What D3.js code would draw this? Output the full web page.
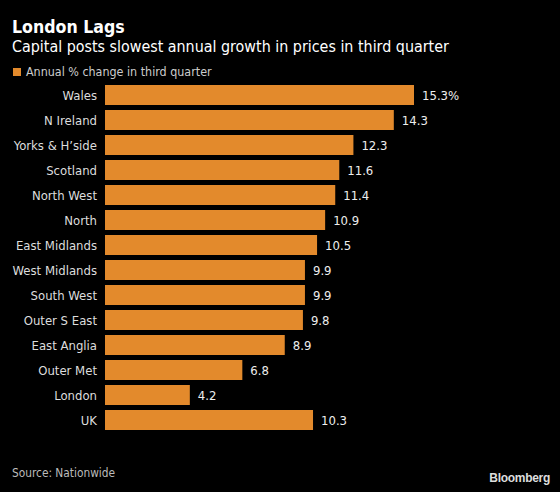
<!DOCTYPE html>
<html><head><meta charset="utf-8">
<script src="https://cdn.jsdelivr.net/npm/d3@7"></script>
<style>body{margin:0;background:#000}svg{display:block}</style>
</head><body>
<script>
const categories = ["Wales","N Ireland","Yorks & H\u2019side","Scotland","North West","North","East Midlands","West Midlands","South West","Outer S East","East Anglia","Outer Met","London","UK"];
const values = [15.3,14.3,12.3,11.6,11.4,10.9,10.5,9.9,9.9,9.8,8.9,6.8,4.2,10.3];
const valueLabels = ["15.3%","14.3","12.3","11.6","11.4","10.9","10.5","9.9","9.9","9.8","8.9","6.8","4.2","10.3"];

const W=560,H=492;
const font="'DejaVu Sans Condensed','DejaVu Sans',sans-serif";
const svg=d3.select("body").append("svg").attr("width",W).attr("height",H);
svg.append("rect").attr("width",W).attr("height",H).attr("fill","#000");

svg.append("text").attr("x",12).attr("y",33).attr("fill","#fff").attr("font-family",font)
  .attr("font-weight","bold").attr("font-size",17.6).text("London Lags");
svg.append("text").attr("x",12).attr("y",52).attr("fill","#fff").attr("font-family",font)
  .attr("font-size",15.9).text("Capital posts slowest annual growth in prices in third quarter");
svg.append("rect").attr("x",13).attr("y",68).attr("width",8).attr("height",8).attr("fill","#E38A2C");
svg.append("text").attr("x",26).attr("y",76).attr("fill","#ccc").attr("font-family",font)
  .attr("font-size",12.4).text("Annual % change in third quarter");

const x=d3.scaleLinear().domain([0,15.3]).range([105,414]);
const y=d3.scaleBand().domain(categories).range([82.5,432.5]).paddingInner(0.2).paddingOuter(0.1);

svg.selectAll("rect.bar").data(values).join("rect").attr("class","bar")
  .attr("x",x(0)).attr("y",(d,i)=>y(categories[i]))
  .attr("width",d=>x(d)-x(0)).attr("height",y.bandwidth()).attr("fill","#E38A2C");

svg.selectAll("text.cat").data(categories).join("text").attr("class","cat")
  .attr("x",97).attr("y",d=>y(d)+y.bandwidth()/2).attr("dy","0.35em")
  .attr("text-anchor","end").attr("fill","#ddd").attr("font-family",font).attr("font-size",13).text(d=>d);

svg.selectAll("text.val").data(values).join("text").attr("class","val")
  .attr("x",d=>x(d)+8).attr("y",(d,i)=>y(categories[i])+y.bandwidth()/2).attr("dy","0.35em")
  .attr("fill","#eee").attr("font-family",font).attr("font-size",13).text((d,i)=>valueLabels[i]);

svg.append("text").attr("x",12).attr("y",477).attr("fill","#bbb").attr("font-family",font)
  .attr("font-size",11.8).text("Source: Nationwide");
svg.append("text").attr("x",550).attr("y",482).attr("text-anchor","end").attr("fill","#ddd")
  .attr("font-family","'Liberation Sans',Arial,sans-serif").attr("font-weight","bold").attr("font-size",12).attr("letter-spacing",-0.3).text("Bloomberg");
</script>
</body></html>
